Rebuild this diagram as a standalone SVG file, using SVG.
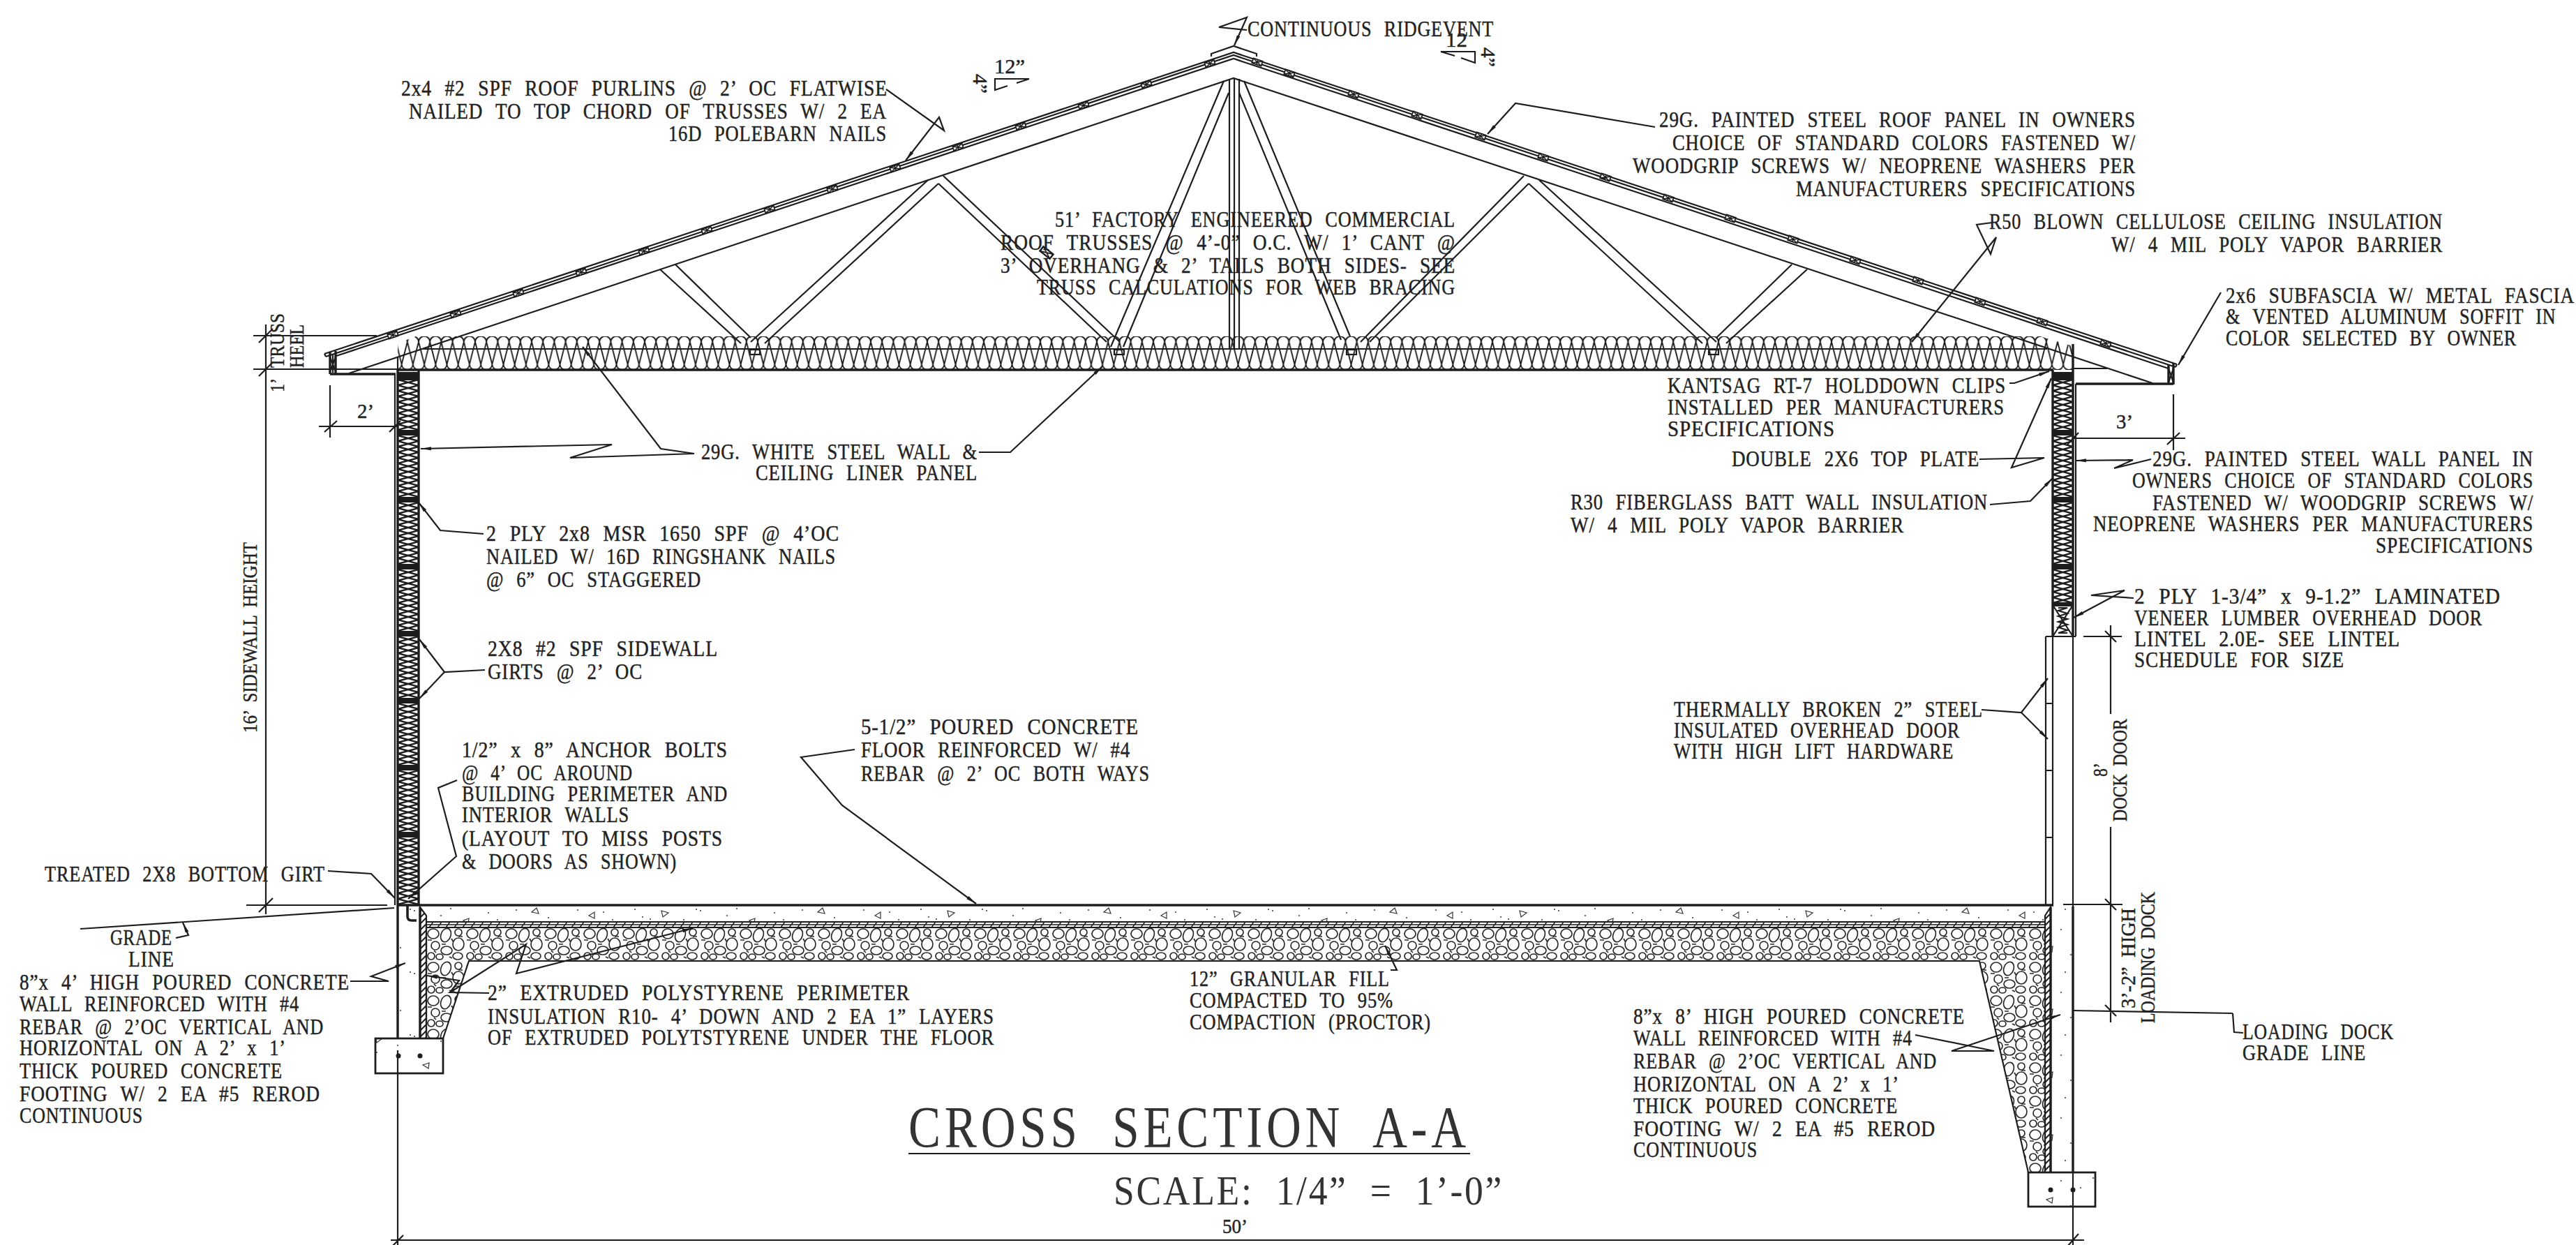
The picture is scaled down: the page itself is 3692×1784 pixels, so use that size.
<svg xmlns="http://www.w3.org/2000/svg" width="3692" height="1784" viewBox="0 0 3692 1784">
<style>
.l{fill:none;stroke:#1d1d1d;stroke-width:2.2;stroke-linejoin:miter}
.th{fill:none;stroke:#1d1d1d;stroke-width:3.4}
.a{fill:none;stroke:#1d1d1d;stroke-width:2.2;marker-end:url(#ah)}
.n{fill:none;stroke:#1d1d1d;stroke-width:2.2}
text{font-family:"Liberation Serif","DejaVu Serif",serif;font-size:31px;fill:#222;word-spacing:12px;letter-spacing:1px;stroke:#222;stroke-width:.45}
.d{font-size:30px;word-spacing:7px;letter-spacing:0}
.ti{font-size:84px;stroke-width:0;word-spacing:26px;letter-spacing:7px;fill:#333}
.sc{font-size:60px;stroke-width:0;word-spacing:18px;letter-spacing:3px;fill:#333}
</style>
<defs>
<marker id="ah" markerUnits="userSpaceOnUse" markerWidth="16" markerHeight="8" refX="15" refY="4" orient="auto"><path d="M0,1.5 L15,4 L0,6.5 Z" fill="#1d1d1d"/></marker>
<pattern id="batt" patternUnits="userSpaceOnUse" x="600" y="482" width="16.2" height="48"><path d="M0,8 A8.1,8.1 0 0 1 16.2,8 L8.1,40 A8.1,8.1 0 0 0 16.2,48 M0,48 A8.1,8.1 0 0 0 8.1,40 L0,8" fill="none" stroke="#1d1d1d" stroke-width="1.9"/></pattern>
<pattern id="stud" patternUnits="userSpaceOnUse" x="570" y="536" width="30" height="16"><path d="M0,0 L30,8 L0,16 M30,0 L0,8 L30,16" fill="none" stroke="#1d1d1d" stroke-width="2.4"/></pattern>
<pattern id="studR" patternUnits="userSpaceOnUse" x="2942" y="536" width="29" height="16"><path d="M0,0 L29,8 L0,16 M29,0 L0,8 L29,16" fill="none" stroke="#1d1d1d" stroke-width="2.4"/></pattern>
<pattern id="gravel" patternUnits="userSpaceOnUse" x="611" y="1329" width="56" height="48"><g fill="none" stroke="#2a2a2a" stroke-width="1.7"><ellipse cx="10" cy="9" rx="8" ry="7"/><ellipse cx="28" cy="11" rx="7" ry="10" transform="rotate(20 28 11)"/><circle cx="46" cy="7" r="5"/><ellipse cx="46" cy="24" rx="8" ry="9"/><circle cx="13" cy="26" r="6"/><ellipse cx="29" cy="33" rx="8" ry="6"/><circle cx="7" cy="41" r="5"/><ellipse cx="19" cy="42" rx="5" ry="4"/><ellipse cx="45" cy="41" rx="7" ry="5"/><path d="M2,18 H8 M22,24 h6 M36,16 l3,5 M37,44 l-4,-2 M14,36 l-3,-3 M52,13 l-6,0"/></g></pattern>
<pattern id="foam" patternUnits="userSpaceOnUse" width="9" height="9"><path d="M-2,11 L11,-2 M-2,2 L2,-2 M7,11 L11,7" fill="none" stroke="#1d1d1d" stroke-width="2"/></pattern>
<pattern id="vb" patternUnits="userSpaceOnUse" x="0" y="1321" width="12" height="8"><path d="M0,4H12 M3,8L9,0" fill="none" stroke="#1d1d1d" stroke-width="1.5"/></pattern>
<pattern id="conc" patternUnits="userSpaceOnUse" x="0" y="1298" width="410" height="90"><g fill="none" stroke="#333" stroke-width="1.2"><path d="M24,14 l8,-5 l0,9 z M128,7 l10,3 l-8,6 z M262,18 l-8,3 l7,5 z M352,9 l7,-6 l3,8 z M72,58 l-9,3 l8,5 z M196,48 l9,-3 l-1,8 z M318,62 l8,3 l-7,5 z M392,44 l-7,4 l7,4 z"/></g><g fill="#333"><circle cx="8" cy="6" r="1"/><circle cx="45" cy="9" r="1"/><circle cx="58" cy="20" r="1"/><circle cx="90" cy="5" r="1"/><circle cx="101" cy="16" r="1"/><circle cx="112" cy="19" r="1"/><circle cx="160" cy="20" r="1"/><circle cx="178" cy="5" r="1"/><circle cx="184" cy="7" r="1"/><circle cx="222" cy="14" r="1"/><circle cx="236" cy="4" r="1"/><circle cx="290" cy="10" r="1"/><circle cx="303" cy="20" r="1"/><circle cx="330" cy="6" r="1"/><circle cx="376" cy="17" r="1"/><circle cx="14" cy="30" r="1"/><circle cx="36" cy="40" r="1"/><circle cx="84" cy="34" r="1"/><circle cx="112" cy="44" r="1"/><circle cx="130" cy="30" r="1"/><circle cx="18" cy="68" r="1"/><circle cx="52" cy="74" r="1"/><circle cx="98" cy="70" r="1"/><circle cx="164" cy="60" r="1"/><circle cx="240" cy="36" r="1"/><circle cx="276" cy="52" r="1"/><circle cx="350" cy="34" r="1"/><circle cx="240" cy="78" r="1"/><circle cx="380" cy="74" r="1"/></g></pattern>
<g id="pl"><g transform="rotate(-18.3)"><rect x="-7" y="-3.5" width="14" height="7" fill="#fff" stroke="#1d1d1d" stroke-width="1.8"/><path d="M-7,-3.5L7,3.5M-7,3.5L7,-3.5M0,-3.5V3.5" fill="none" stroke="#1d1d1d" stroke-width="1.6"/></g></g>
<g id="pr"><g transform="rotate(18.3)"><rect x="-7" y="-3.5" width="14" height="7" fill="#fff" stroke="#1d1d1d" stroke-width="1.8"/><path d="M-7,-3.5L7,3.5M-7,3.5L7,-3.5M0,-3.5V3.5" fill="none" stroke="#1d1d1d" stroke-width="1.6"/></g></g>
</defs>
<rect width="3692" height="1784" fill="#fff"/>

<g id="ceiling-insulation">
<path d="M570,530 V492 L596,482 H2924 L2971,496 V530 Z" fill="url(#batt)"/>
</g>
<g id="truss">
<path class="l" d="M465,507 L1768,75 L3120,522 M467,511 L1768,79 L3118,526 M465,507 L467,511 M3120,522 L3118,526 M482,510 L1768,84 L3108,528"/>
<path class="l" d="M1736,81 V77 L1768,66 L1801,77 V81"/>
<path class="l" d="M500,535 L1768,112 L3085,549 M605,500 H2934"/>
<path class="l" d="M1762,113 V500 M1769,113 V500 M1776,113 V500"/>
<path class="l" d="M1754,116 L1592,497 M1761,133 L1610,497 M1783,116 L1935,482 M1776,133 L1922,487"/>
<path class="l" d="M1330,258 L1076,490 M1345,263 L1096,492 M1352,252 L1605,490 M1345,263 L1586,490"/>
<path class="l" d="M2206,258 L2460,490 M2191,263 L2440,492 M2184,252 L1950,490 M2191,263 L1963,490"/>
<path class="l" d="M946,386 L1062,492 M968,379 L1076,484 M2590,386 L2474,492 M2568,379 L2460,484"/>
<g class="l"><rect x="1075" y="501" width="14" height="7"/><rect x="1597" y="501" width="14" height="7"/><rect x="1930" y="501" width="14" height="7"/><rect x="2449" y="501" width="14" height="7"/></g>
<g transform="translate(1500,362) rotate(38)"><rect x="-9" y="-4" width="18" height="8" fill="#fff" stroke="#1d1d1d" stroke-width="2.4"/><path d="M-9,-4L9,4M-9,4L9,-4" stroke="#1d1d1d" stroke-width="1.6"/></g>
<use href="#pl" x="563" y="480"/><use href="#pl" x="653" y="450"/><use href="#pl" x="743" y="420"/><use href="#pl" x="833" y="390"/><use href="#pl" x="923" y="360"/><use href="#pl" x="1013" y="330"/><use href="#pl" x="1103" y="300"/><use href="#pl" x="1193" y="271"/><use href="#pl" x="1283" y="241"/><use href="#pl" x="1373" y="211"/><use href="#pl" x="1463" y="181"/><use href="#pl" x="1553" y="151"/><use href="#pl" x="1643" y="121"/><use href="#pl" x="1734" y="91"/>
<use href="#pr" x="1802" y="89"/><use href="#pr" x="1848" y="105"/><use href="#pr" x="1940" y="135"/><use href="#pr" x="2031" y="165"/><use href="#pr" x="2122" y="195"/><use href="#pr" x="2212" y="225"/><use href="#pr" x="2301" y="254"/><use href="#pr" x="2391" y="284"/><use href="#pr" x="2480" y="313"/><use href="#pr" x="2570" y="343"/><use href="#pr" x="2659" y="373"/><use href="#pr" x="2749" y="402"/><use href="#pr" x="2838" y="432"/><use href="#pr" x="2927" y="461"/><use href="#pr" x="3018" y="492"/>
</g>

<g id="wall-left">
<rect x="570" y="536" width="30" height="761" fill="url(#stud)"/>
<path class="th" d="M570,530 V1297 M600,530 V1297"/>
<path class="l" d="M566,536 V1297"/>
<path fill="#1d1d1d" d="M571,533 h28 v12 h-28 z M571,616 h28 v8 h-28 z M571,712 h28 v8 h-28 z M571,808 h28 v8 h-28 z M571,904 h28 v8 h-28 z M571,1000 h28 v8 h-28 z M571,1096 h28 v8 h-28 z M571,1192 h28 v8 h-28 z"/>
<path class="th" d="M570,530 H2943 M473,536 H567 M473,505 V536 M481,503 V536"/>
<path class="l" d="M477,507 V534 M473,512 L481,532 M481,512 L473,532 M570,512 V530"/>
</g>
<g id="wall-right">
<rect x="2942" y="536" width="29" height="331" fill="url(#studR)"/>
<rect x="2942" y="867" width="29" height="45" fill="#fff"/>
<path class="th" d="M2942,530 V912 M2971,493 V912"/>
<path class="l" d="M2975,550 V912 M2971,528 H3020"/>
<path fill="#1d1d1d" d="M2943,533 h27 v12 h-27 z M2943,616 h27 v8 h-27 z M2943,712 h27 v8 h-27 z M2943,808 h27 v8 h-27 z M2943,863 h27 v6 h-27 z"/>
<path class="th" d="M2975,550 H3115 M3108,523 V551 M3115,521 V551"/>
<path class="l" d="M2942,867 L2971,912 M2971,867 L2942,912 M3108,528 L3115,548 M3115,528 L3108,548"/>
<path class="n" d="M2950,871 H2963 L2950,875 L2963,879 L2950,883 L2963,887 L2950,891 L2963,895 L2950,899 L2963,903 L2950,907 H2963"/>
</g>
<g id="overhead-door">
<path class="l" d="M2932,912 H2975 M2932,912 V1296 M2942,912 V1296 M2971,912 V1299 M2932,1008 H2942 M2932,1104 H2942 M2932,1200 H2942"/>
</g>
<g id="floor">
<path d="M611,1329 H2931 V1680 H2907 L2837,1377 H672 L635,1488 H611 Z" fill="url(#gravel)" stroke="#1d1d1d" stroke-width="2.2"/>
<rect x="602" y="1298" width="2337" height="23" fill="url(#conc)"/>
<rect x="611" y="1321" width="2320" height="8" fill="url(#vb)"/>
<path class="l" d="M611,1321 H2931 M611,1329 H2931"/>
<path class="th" d="M570,1297 H2943"/>
<rect x="570" y="1298" width="32" height="190" fill="url(#conc)"/>
<rect x="2939" y="1298" width="32" height="382" fill="url(#conc)"/>
<path d="M602,1300 L611,1312 V1488 H602 Z" fill="url(#foam)" stroke="#1d1d1d" stroke-width="2.2"/>
<path d="M2931,1312 L2939,1300 V1680 H2931 Z" fill="url(#foam)" stroke="#1d1d1d" stroke-width="2.2"/>
<path class="th" d="M570,1297 V1488 M602,1300 V1488 M2939,1300 V1680 M2971,1299 V1680"/>
<path d="M584,1297 V1313 Q584,1319 590,1319 H597" fill="none" stroke="#1d1d1d" stroke-width="3.6"/>
</g>
<g id="footing-left">
<rect x="538" y="1488" width="97" height="50" fill="url(#conc)" stroke="#1d1d1d" stroke-width="2.8"/>
<circle cx="571" cy="1513" r="3.5" fill="#1d1d1d"/><circle cx="602" cy="1513" r="3.5" fill="#1d1d1d"/>
</g>
<g id="footing-right">
<rect x="2907" y="1680" width="96" height="49" fill="url(#conc)" stroke="#1d1d1d" stroke-width="2.8"/>
<circle cx="2939" cy="1705" r="3.5" fill="#1d1d1d"/><circle cx="2971" cy="1705" r="3.5" fill="#1d1d1d"/>
</g>

<g id="dimensions">
<path class="l" d="M570,1505 V1784 M2971,1680 V1784 M560,1777 H2987 M562,1786 L578,1770 M2963,1786 L2979,1768"/>
<path class="l" d="M381,465 V1310 M363,481 H540 M363,529 H570 M353,1297 H555 M371,491 L391,471 M371,539 L391,519 M371,1307 L391,1287"/>
<path class="l" d="M115,1331 L565,1301"/>
<path class="l" d="M473,552 V627 M457,611 H570 M465,619 L483,603 M558,619 L574,603"/>
<path class="l" d="M3115,565 V645 M2971,628 H3132 M3106,637 L3124,620 M2963,637 L2979,620"/>
<path class="l" d="M3025,896 V1023 M3025,1185 V1465 M2986,912 H3041 M2957,1296 H3042 M2971,1448 L3200,1452 M3017,904 L3033,920 M3017,1288 L3033,1304 M3017,1440 L3033,1456"/>
<path class="n" d="M1475,113 H1426 V129 L1444,123 M1457,119 L1475,113"/>
<path class="n" d="M2085,80 L2065,74 H2114 V90 L2094,83"/>
</g>

<g id="connectors">
<polyline class="a" points="1270,128 1353,187 1346,168 1298,230"/>
<polyline class="a" points="1787,43 1747,39 1787,25 1769,65"/>
<polyline class="a" points="2372,182 2172,148 2132,192"/>
<polyline class="a" points="2855,319 2833,322 2853,364 2861,340 2740,490"/>
<polyline class="a" points="3183,419 3122,523"/>
<polyline class="a" points="2880,549 2887,549 2937,532"/>
<polyline class="a" points="2837,658 2930,656 2883,670 2940,542"/>
<polyline class="a" points="2852,723 2910,718 2942,685"/>
<polyline class="a" points="3083,658 3030,671 3057,659 2975,660"/>
<polyline class="a" points="3058,857 2997,853 3045,846 2972,885"/>
<polyline class="a" points="2840,1017 2897,1021 2935,972"/>
<polyline class="a" points="2897,1021 2935,1059"/>
<polyline class="a" points="995,650 947,643 835,497"/>
<polyline class="a" points="995,650 817,656 877,637 603,643"/>
<polyline class="a" points="1403,648 1448,648 1580,525"/>
<polyline class="a" points="693,765 631,760 600,720"/>
<polyline class="a" points="695,960 637,963 601,916"/>
<polyline class="a" points="637,963 601,1001"/>
<polyline class="a" points="655,1118 628,1129 654,1227 585,1288"/>
<polyline class="a" points="1225,1074 1148,1085 1207,1154 1399,1295"/>
<polyline class="a" points="470,1248 532,1252 566,1287"/>
<polyline class="a" points="252,1344 270,1340 262,1322"/>
<polyline class="a" points="502,1406 557,1406 532,1399 581,1380"/>
<polyline class="a" points="701,1423 645,1422 754,1353 740,1395 993,1330"/>
<polyline class="a" points="645,1422 658,1405 612,1398"/>
<polyline class="a" points="1993,1390 2002,1390 1985,1355"/>
<polyline class="a" points="2745,1483 2858,1506 2797,1506 2953,1454"/>
<polyline class="n" points="3215,1480 3202,1479 3200,1452"/>
</g>

<g id="note-purlins"><text x="575" y="137" textLength="697" lengthAdjust="spacingAndGlyphs">2x4 #2 SPF ROOF PURLINS @ 2’ OC FLATWISE</text><text x="586" y="170" textLength="685" lengthAdjust="spacingAndGlyphs">NAILED TO TOP CHORD OF TRUSSES W/ 2 EA</text><text x="958" y="202" textLength="313" lengthAdjust="spacingAndGlyphs">16D POLEBARN NAILS</text></g>
<g id="note-ridge"><text x="1788" y="52" textLength="353" lengthAdjust="spacingAndGlyphs">CONTINUOUS RIDGEVENT</text></g>
<g id="note-roof"><text x="2378" y="182" textLength="683" lengthAdjust="spacingAndGlyphs">29G. PAINTED STEEL ROOF PANEL IN OWNERS</text><text x="2397" y="215" textLength="664" lengthAdjust="spacingAndGlyphs">CHOICE OF STANDARD COLORS FASTENED W/</text><text x="2340" y="248" textLength="721" lengthAdjust="spacingAndGlyphs">WOODGRIP SCREWS W/ NEOPRENE WASHERS PER</text><text x="2574" y="281" textLength="487" lengthAdjust="spacingAndGlyphs">MANUFACTURERS SPECIFICATIONS</text></g>
<g id="note-truss"><text x="1512" y="325" textLength="574" lengthAdjust="spacingAndGlyphs">51’ FACTORY ENGINEERED COMMERCIAL</text><text x="1434" y="358" textLength="652" lengthAdjust="spacingAndGlyphs">ROOF TRUSSES @ 4’-0” O.C. W/ 1’ CANT @</text><text x="1434" y="391" textLength="652" lengthAdjust="spacingAndGlyphs">3’ OVERHANG &amp; 2’ TAILS BOTH SIDES- SEE</text><text x="1486" y="422" textLength="600" lengthAdjust="spacingAndGlyphs">TRUSS CALCULATIONS FOR WEB BRACING</text></g>
<g id="note-r50"><text x="2851" y="328" textLength="650" lengthAdjust="spacingAndGlyphs">R50 BLOWN CELLULOSE CEILING INSULATION</text><text x="3026" y="361" textLength="475" lengthAdjust="spacingAndGlyphs">W/ 4 MIL POLY VAPOR BARRIER</text></g>
<g id="note-fascia"><text transform="translate(3190,434) scale(.8,1)" textLength="625" lengthAdjust="spacingAndGlyphs">2x6 SUBFASCIA W/ METAL FASCIA</text><text transform="translate(3190,464) scale(.8,1)" textLength="592" lengthAdjust="spacingAndGlyphs">&amp; VENTED ALUMINUM SOFFIT IN</text><text x="3190" y="495" textLength="417" lengthAdjust="spacingAndGlyphs">COLOR SELECTED BY OWNER</text></g>
<g id="note-kantsag"><text x="2390" y="563" textLength="485" lengthAdjust="spacingAndGlyphs">KANTSAG RT-7 HOLDDOWN CLIPS</text><text x="2390" y="594" textLength="483" lengthAdjust="spacingAndGlyphs">INSTALLED PER MANUFACTURERS</text><text x="2390" y="625" textLength="240" lengthAdjust="spacingAndGlyphs">SPECIFICATIONS</text></g>
<g id="note-plate"><text x="2482" y="668" textLength="355" lengthAdjust="spacingAndGlyphs">DOUBLE 2X6 TOP PLATE</text></g>
<g id="note-wallpanel"><text x="3085" y="668" textLength="546" lengthAdjust="spacingAndGlyphs">29G. PAINTED STEEL WALL PANEL IN</text><text x="3056" y="699" textLength="575" lengthAdjust="spacingAndGlyphs">OWNERS CHOICE OF STANDARD COLORS</text><text x="3085" y="731" textLength="546" lengthAdjust="spacingAndGlyphs">FASTENED W/ WOODGRIP SCREWS W/</text><text x="3000" y="761" textLength="631" lengthAdjust="spacingAndGlyphs">NEOPRENE WASHERS PER MANUFACTURERS</text><text x="3405" y="792" textLength="226" lengthAdjust="spacingAndGlyphs">SPECIFICATIONS</text></g>
<g id="note-r30"><text x="2251" y="730" textLength="598" lengthAdjust="spacingAndGlyphs">R30 FIBERGLASS BATT WALL INSULATION</text><text x="2251" y="763" textLength="478" lengthAdjust="spacingAndGlyphs">W/ 4 MIL POLY VAPOR BARRIER</text></g>
<g id="note-lintel"><text x="3059" y="865" textLength="525" lengthAdjust="spacingAndGlyphs">2 PLY 1-3/4” x 9-1.2” LAMINATED</text><text x="3059" y="896" textLength="499" lengthAdjust="spacingAndGlyphs">VENEER LUMBER OVERHEAD DOOR</text><text x="3059" y="926" textLength="381" lengthAdjust="spacingAndGlyphs">LINTEL 2.0E- SEE LINTEL</text><text x="3059" y="956" textLength="301" lengthAdjust="spacingAndGlyphs">SCHEDULE FOR SIZE</text></g>
<g id="note-door"><text x="2399" y="1027" textLength="443" lengthAdjust="spacingAndGlyphs">THERMALLY BROKEN 2” STEEL</text><text x="2399" y="1057" textLength="410" lengthAdjust="spacingAndGlyphs">INSULATED OVERHEAD DOOR</text><text x="2399" y="1087" textLength="401" lengthAdjust="spacingAndGlyphs">WITH HIGH LIFT HARDWARE</text></g>
<g id="note-liner"><text x="1005" y="658" textLength="396" lengthAdjust="spacingAndGlyphs">29G. WHITE STEEL WALL &amp;</text><text x="1083" y="688" textLength="318" lengthAdjust="spacingAndGlyphs">CEILING LINER PANEL</text></g>
<g id="note-column"><text x="697" y="775" textLength="506" lengthAdjust="spacingAndGlyphs">2 PLY 2x8 MSR 1650 SPF @ 4’OC</text><text x="697" y="808" textLength="501" lengthAdjust="spacingAndGlyphs">NAILED W/ 16D RINGSHANK NAILS</text><text x="697" y="841" textLength="308" lengthAdjust="spacingAndGlyphs">@ 6” OC STAGGERED</text></g>
<g id="note-girts"><text x="699" y="940" textLength="330" lengthAdjust="spacingAndGlyphs">2X8 #2 SPF SIDEWALL</text><text x="699" y="973" textLength="222" lengthAdjust="spacingAndGlyphs">GIRTS @ 2’ OC</text></g>
<g id="note-anchor"><text x="662" y="1085" textLength="381" lengthAdjust="spacingAndGlyphs">1/2” x 8” ANCHOR BOLTS</text><text x="662" y="1118" textLength="245" lengthAdjust="spacingAndGlyphs">@ 4’ OC AROUND</text><text x="662" y="1148" textLength="381" lengthAdjust="spacingAndGlyphs">BUILDING PERIMETER AND</text><text x="662" y="1178" textLength="240" lengthAdjust="spacingAndGlyphs">INTERIOR WALLS</text><text x="662" y="1212" textLength="374" lengthAdjust="spacingAndGlyphs">(LAYOUT TO MISS POSTS</text><text x="662" y="1245" textLength="308" lengthAdjust="spacingAndGlyphs">&amp; DOORS AS SHOWN)</text></g>
<g id="note-slab"><text x="1234" y="1052" textLength="398" lengthAdjust="spacingAndGlyphs">5-1/2” POURED CONCRETE</text><text x="1234" y="1085" textLength="386" lengthAdjust="spacingAndGlyphs">FLOOR REINFORCED W/ #4</text><text x="1234" y="1119" textLength="414" lengthAdjust="spacingAndGlyphs">REBAR @ 2’ OC BOTH WAYS</text></g>
<g id="note-girt"><text x="64" y="1263" textLength="402" lengthAdjust="spacingAndGlyphs">TREATED 2X8 BOTTOM GIRT</text></g>
<g id="note-grade"><text x="158" y="1354" textLength="89" lengthAdjust="spacingAndGlyphs">GRADE</text><text x="184" y="1385" textLength="66" lengthAdjust="spacingAndGlyphs">LINE</text></g>
<g id="note-wall4"><text x="28" y="1418" textLength="473" lengthAdjust="spacingAndGlyphs">8”x 4’ HIGH POURED CONCRETE</text><text x="28" y="1449" textLength="401" lengthAdjust="spacingAndGlyphs">WALL REINFORCED WITH #4</text><text x="28" y="1482" textLength="436" lengthAdjust="spacingAndGlyphs">REBAR @ 2’OC VERTICAL AND</text><text x="28" y="1512" textLength="382" lengthAdjust="spacingAndGlyphs">HORIZONTAL ON A 2’ x 1’</text><text x="28" y="1545" textLength="377" lengthAdjust="spacingAndGlyphs">THICK POURED CONCRETE</text><text x="28" y="1578" textLength="431" lengthAdjust="spacingAndGlyphs">FOOTING W/ 2 EA #5 REROD</text><text x="28" y="1609" textLength="177" lengthAdjust="spacingAndGlyphs">CONTINUOUS</text></g>
<g id="note-foam"><text x="699" y="1433" textLength="605" lengthAdjust="spacingAndGlyphs">2” EXTRUDED POLYSTYRENE PERIMETER</text><text x="699" y="1467" textLength="726" lengthAdjust="spacingAndGlyphs">INSULATION R10- 4’ DOWN AND 2 EA 1” LAYERS</text><text x="699" y="1497" textLength="726" lengthAdjust="spacingAndGlyphs">OF EXTRUDED POLYTSTYRENE UNDER THE FLOOR</text></g>
<g id="note-fill"><text x="1705" y="1413" textLength="287" lengthAdjust="spacingAndGlyphs">12” GRANULAR FILL</text><text x="1705" y="1444" textLength="292" lengthAdjust="spacingAndGlyphs">COMPACTED TO 95%</text><text x="1705" y="1475" textLength="346" lengthAdjust="spacingAndGlyphs">COMPACTION (PROCTOR)</text></g>
<g id="note-wall8"><text x="2341" y="1467" textLength="475" lengthAdjust="spacingAndGlyphs">8”x 8’ HIGH POURED CONCRETE</text><text x="2341" y="1498" textLength="400" lengthAdjust="spacingAndGlyphs">WALL REINFORCED WITH #4</text><text x="2341" y="1531" textLength="435" lengthAdjust="spacingAndGlyphs">REBAR @ 2’OC VERTICAL AND</text><text x="2341" y="1564" textLength="381" lengthAdjust="spacingAndGlyphs">HORIZONTAL ON A 2’ x 1’</text><text x="2341" y="1595" textLength="379" lengthAdjust="spacingAndGlyphs">THICK POURED CONCRETE</text><text x="2341" y="1628" textLength="433" lengthAdjust="spacingAndGlyphs">FOOTING W/ 2 EA #5 REROD</text><text x="2341" y="1658" textLength="178" lengthAdjust="spacingAndGlyphs">CONTINUOUS</text></g>
<g id="note-dock"><text x="3214" y="1489" textLength="217" lengthAdjust="spacingAndGlyphs">LOADING DOCK</text><text x="3214" y="1519" textLength="177" lengthAdjust="spacingAndGlyphs">GRADE LINE</text></g>

<g id="dim-labels">
<text class="d" x="1425" y="105" textLength="44" lengthAdjust="spacingAndGlyphs">12”</text>
<text class="d" transform="translate(1395,106) rotate(90)" textLength="28" lengthAdjust="spacingAndGlyphs">4”</text>
<text class="d" x="2072" y="67" textLength="31" lengthAdjust="spacingAndGlyphs">12</text>
<text class="d" transform="translate(2123,68) rotate(90)" textLength="28" lengthAdjust="spacingAndGlyphs">4”</text>
<text class="d" x="1752" y="1767" textLength="36" lengthAdjust="spacingAndGlyphs">50’</text>
<text class="d" x="512" y="599" textLength="24" lengthAdjust="spacingAndGlyphs">2’</text>
<text class="d" x="3033" y="614" textLength="24" lengthAdjust="spacingAndGlyphs">3’</text>
<text class="d" transform="translate(368,1050) rotate(-90)" textLength="273" lengthAdjust="spacingAndGlyphs">16’ SIDEWALL HEIGHT</text>
<text class="d" transform="translate(407,562) rotate(-90)" textLength="20" lengthAdjust="spacingAndGlyphs">1’</text>
<text class="d" transform="translate(407,527) rotate(-90)" textLength="78" lengthAdjust="spacingAndGlyphs">TRUSS</text>
<text class="d" transform="translate(435,527) rotate(-90)" textLength="62" lengthAdjust="spacingAndGlyphs">HEEL</text>
<text class="d" transform="translate(3020,1113) rotate(-90)" textLength="20" lengthAdjust="spacingAndGlyphs">8’</text>
<text class="d" transform="translate(3048,1177) rotate(-90)" textLength="147" lengthAdjust="spacingAndGlyphs">DOCK DOOR</text>
<text class="d" transform="translate(3060,1445) rotate(-90)" textLength="144" lengthAdjust="spacingAndGlyphs">3’-2” HIGH</text>
<text class="d" transform="translate(3088,1466) rotate(-90)" textLength="188" lengthAdjust="spacingAndGlyphs">LOADING DOCK</text>
</g>

<g id="title">
<text class="ti" x="1302" y="1644" textLength="805" lengthAdjust="spacingAndGlyphs">CROSS SECTION A-A</text>
<path class="l" d="M1302,1653 H2107"/>
<text class="sc" x="1596" y="1726" textLength="559" lengthAdjust="spacingAndGlyphs">SCALE: 1/4” = 1’-0”</text>
</g>
</svg>
